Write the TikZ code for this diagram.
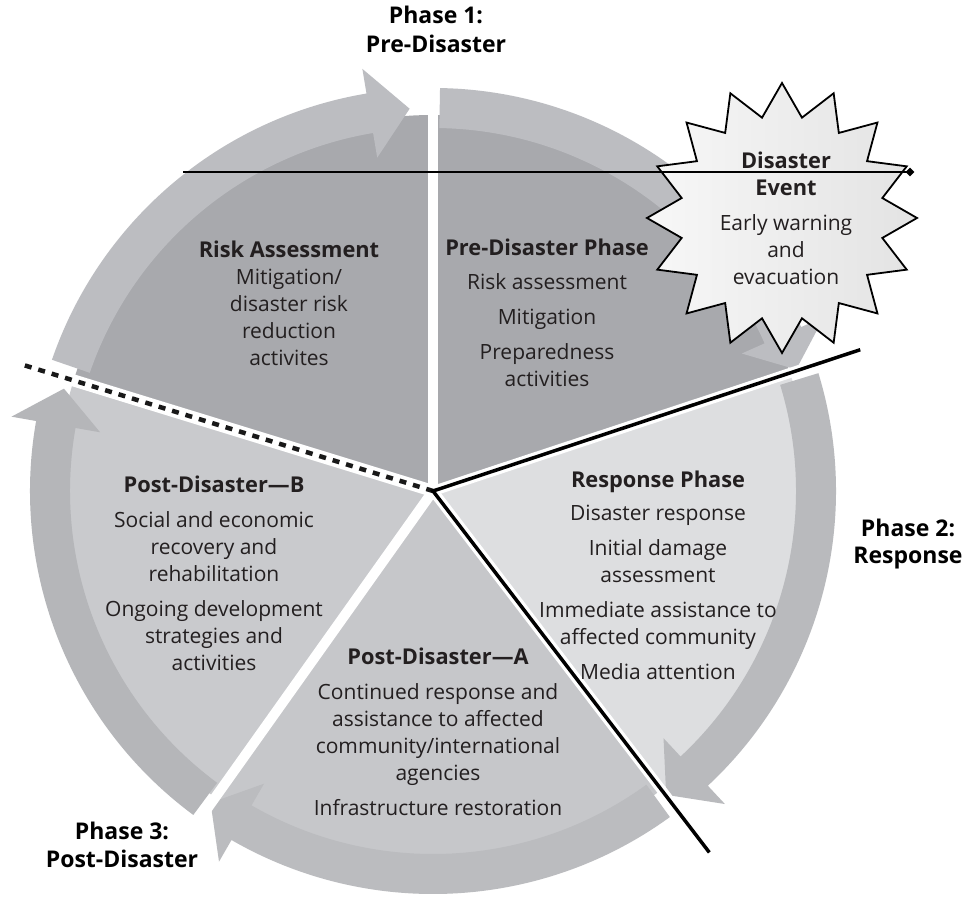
\documentclass[tikz,border=0pt]{standalone}
\usepackage{fontspec}
\setmainfont{Open Sans}
\usetikzlibrary{shapes.geometric}
\definecolor{darksec}{HTML}{A8A9AD}
\definecolor{darkring}{HTML}{BCBDC1}
\definecolor{respsec}{HTML}{DDDEE0}
\definecolor{respring}{HTML}{B9BABD}
\definecolor{asec}{HTML}{C6C7CA}
\definecolor{aring}{HTML}{BBBCBF}
\definecolor{bsec}{HTML}{C9CACD}
\definecolor{bring}{HTML}{B5B6B9}
\definecolor{txt}{HTML}{231F20}
% #1 tail angle, #2 tip angle, #3 colour, #4 head length (deg)
\newcommand\ringarrow[4]{%
  \fill[#3] (#1:403) arc[start angle=#1, end angle={#2+#4}, radius=403]
    -- ({#2+#4}:428) -- (#2:383) -- ({#2+#4}:338) -- ({#2+#4}:363)
    arc[start angle={#2+#4}, end angle=#1, radius=363] -- cycle;}
\newcommand\ttl[1]{{\fontsize{21.8}{27}\selectfont\bfseries #1}}
\begin{document}
\begin{tikzpicture}[x=1pt,y=1pt,
  body/.style={font=\fontsize{21}{27}\selectfont, text=txt, align=center, inner sep=0pt},
  phase/.style={font=\bfseries\fontsize{23}{29}\selectfont, text=black, align=center, inner sep=0pt},
  gapline/.style={white, line width=10pt},
  blackline/.style={black, line width=3.5pt},
  dashline/.style={black!90, line width=4.5pt, dash pattern=on 7pt off 7pt},
]
\useasboundingbox (0,0) rectangle (966,902);
\fill[white] (0,0) rectangle (966,902);
\begin{scope}[shift={(433,411)}]
  % sectors
  \fill[darksec] (0,0) -- (18.3:376) arc[start angle=18.3, end angle=90, radius=376] -- cycle;
  \fill[darksec] (0,0) -- (90:376) arc[start angle=90, end angle=162.9, radius=376] -- cycle;
  \fill[bsec] (0,0) -- (162.9:376) arc[start angle=162.9, end angle=234.6, radius=376] -- cycle;
  \fill[asec] (0,0) -- (234.6:376) arc[start angle=234.6, end angle=307.4, radius=376] -- cycle;
  \fill[respsec] (0,0) -- (-52.6:376) arc[start angle=-52.6, end angle=18.3, radius=376] -- cycle;
  % ring arrows
  \ringarrow{161}{93.5}{darkring}{6}
  \ringarrow{89}{18.5}{darkring}{5.5}
  \ringarrow{17}{-52.5}{respring}{5.5}
  \ringarrow{306}{234.5}{aring}{5.5}
  \ringarrow{233.5}{164.5}{bring}{5.5}
  % boundary coordinates
  \coordinate (c) at (0,0);
  \coordinate (gtop) at (90:440);
  \coordinate (gll) at (234.6:440);
  \coordinate (gdash) at (162.9:434);
  \coordinate (gur) at (18.3:450);
  \coordinate (glr) at (-52.6:455);
\end{scope}
% white gaps
\draw[gapline] (c) -- (gtop);
\draw[gapline] (c) -- (gll);
\draw[white, line width=12pt] (c) -- (gdash);
\draw[gapline] (c) -- (gur);
\draw[gapline] (c) -- (glr);
% dividing lines
\draw[dashline] (c) -- (gdash);
\draw[blackline] (gur) -- (c) -- (glr);
% disaster event star
\node[star, star points=16, star point ratio=1.32, minimum size=270pt, inner sep=0pt,
      draw=black, line width=1.8pt, left color=white!97!black, right color=white!89!black]
      (star) at (782,684) {};
\coordinate (hl) at (183,730);
\node[diamond, fill=black, inner sep=0pt, minimum size=9pt] (dm) at (910,730) {};
\draw[line width=2pt] (hl) -- (dm.center);
% texts
\node[body] (risk) at (289,599) {\ttl{Risk Assessment}\\Mitigation/\\disaster risk\\reduction\\activites};
\node[body] (pre) at (547,589.5) {\ttl{Pre-Disaster Phase}\\[7pt]Risk assessment\\[8pt]Mitigation\\[8pt]Preparedness\\activities};
\node[body] (event) at (786,684) {\ttl{Disaster}\\\ttl{Event}\\[8pt]Early warning\\and\\evacuation};
\node[body] (resp) at (658,326.5) {\ttl{Response Phase}\\[6pt]Disaster response\\[8pt]Initial damage\\assessment\\[8pt]Immediate assistance to\\affected community\\[8pt]Media attention};
\node[body] (postb) at (214,328.5) {\ttl{Post-Disaster—B}\\[8pt]Social and economic\\recovery and\\rehabilitation\\[8pt]Ongoing development\\strategies and\\activities};
\node[body] (posta) at (438,170.5) {\ttl{Post-Disaster—A}\\[8pt]Continued response and\\assistance to affected\\community/international\\agencies\\[8pt]Infrastructure restoration};
\node[phase] (ph1) at (436,873) {Phase 1:\\Pre-Disaster};
\node[phase, font=\bfseries\fontsize{23}{27}\selectfont] (ph2) at (908,357.5) {Phase 2:\\Response};
\node[phase, font=\bfseries\fontsize{23}{28}\selectfont] (ph3) at (122,57) {Phase 3:\\Post-Disaster};
\end{tikzpicture}
\end{document}
